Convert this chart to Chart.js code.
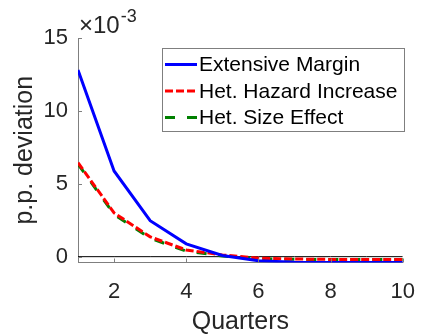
<!DOCTYPE html>
<html>
<head>
<meta charset="utf-8">
<script src="https://cdn.jsdelivr.net/npm/chart.js@4.4.1/dist/chart.umd.min.js"></script>
<style>
  html, body { margin: 0; padding: 0; background: #fff; }
  #wrap { width: 431px; height: 334px; position: relative; }
</style>
</head>
<body>
<div id="wrap"><canvas id="irf"></canvas></div>
<script>
// quarters after the shock
const quarters = [1, 2, 3, 4, 5, 6, 7, 8, 9, 10];
// p.p. deviation of each series
const extensiveMargin = [12.8e-3, 5.88e-3, 2.47e-3, 0.88e-3, 0.08e-3, -0.28e-3, -0.38e-3, -0.4e-3, -0.4e-3, -0.4e-3];
const hazardIncrease = [6.45e-3, 3.0e-3, 1.36e-3, 0.46e-3, 0.12e-3, -0.1e-3, -0.16e-3, -0.19e-3, -0.2e-3, -0.2e-3];
const sizeEffect = [6.35e-3, 2.9e-3, 1.26e-3, 0.38e-3, 0.05e-3, -0.14e-3, -0.18e-3, -0.2e-3, -0.2e-3, -0.2e-3];
const zeroLine = [0, 0, 0, 0, 0, 0, 0, 0, 0, 0];
const yTicks = [0, 5e-3, 10e-3, 15e-3];
const xTicks = [2, 4, 6, 8, 10];

const FONT = "'Liberation Sans', Arial, sans-serif";
const AXIS_GRAY = "#7f7f7f";
const TEXT = "#262626";

const pts = (ys) => quarters.map((q, i) => ({ x: q, y: ys[i] }));

// MATLAB style inward tick marks
const inwardTicks = {
  id: "inwardTicks",
  afterDraw(chart) {
    const { ctx, chartArea, scales } = chart;
    ctx.save();
    ctx.strokeStyle = AXIS_GRAY;
    ctx.lineWidth = 1;
    ctx.beginPath();
    xTicks.forEach((v) => {
      const x = Math.round(scales.x.getPixelForValue(v)) + 0.5;
      ctx.moveTo(x, chartArea.bottom);
      ctx.lineTo(x, chartArea.bottom - 4);
    });
    yTicks.forEach((v) => {
      const y = Math.round(scales.y.getPixelForValue(v)) + 0.5;
      ctx.moveTo(chartArea.left, y);
      ctx.lineTo(chartArea.left + 4, y);
    });
    ctx.stroke();
    ctx.restore();
  },
};

// exponent label above the y axis
const exponentLabel = {
  id: "exponentLabel",
  afterDraw(chart) {
    const { ctx } = chart;
    ctx.save();
    ctx.fillStyle = TEXT;
    ctx.textBaseline = "alphabetic";
    ctx.textAlign = "left";
    ctx.font = "24px " + FONT;
    ctx.fillText("\u00d710", 79, 33);
    const w = ctx.measureText("\u00d710").width;
    ctx.font = "18px " + FONT;
    ctx.fillText("-3", 79 + w + 1, 22);
    ctx.restore();
  },
};

// boxed legend in the upper right
const boxLegend = {
  id: "boxLegend",
  afterDraw(chart) {
    const { ctx } = chart;
    const box = { x: 162, y: 48, w: 242, h: 83 };
    ctx.save();
    ctx.fillStyle = "#fff";
    ctx.fillRect(box.x, box.y, box.w, box.h);
    ctx.strokeStyle = AXIS_GRAY;
    ctx.lineWidth = 1;
    ctx.strokeRect(box.x + 0.5, box.y + 0.5, box.w, box.h);
    ctx.font = "21px " + FONT;
    ctx.textBaseline = "middle";
    ctx.fillStyle = "#000";
    chart.data.datasets.slice(0, 3).forEach((ds, i) => {
      const y = 64.5 + i * 26.5;
      ctx.beginPath();
      ctx.strokeStyle = ds.borderColor;
      ctx.lineWidth = ds.borderWidth;
      ctx.setLineDash(ds.borderDash || []);
      ctx.moveTo(165, y);
      ctx.lineTo(197, y);
      ctx.stroke();
      ctx.setLineDash([]);
      ctx.fillText(ds.label, 199, y + 1);
    });
    ctx.restore();
  },
};

new Chart(document.getElementById("irf"), {
  type: "line",
  data: {
    datasets: [
      {
        label: "Extensive Margin",
        data: pts(extensiveMargin),
        borderColor: "#0000ff",
        borderWidth: 3,
        order: 0,
      },
      {
        label: "Het. Hazard Increase",
        data: pts(hazardIncrease),
        borderColor: "#ff0000",
        borderWidth: 3,
        borderDash: [8, 3],
        order: 1,
      },
      {
        label: "Het. Size Effect",
        data: pts(sizeEffect),
        borderColor: "#008000",
        borderWidth: 3,
        borderDash: [10, 12],
        order: 2,
      },
      {
        label: "zero",
        data: pts(zeroLine),
        borderColor: "#000000",
        borderWidth: 1,
        order: 3,
      },
    ],
  },
  options: {
    responsive: true,
    maintainAspectRatio: false,
    animation: false,
    elements: { point: { radius: 0 }, line: { tension: 0 } },
    layout: { padding: { top: 38, right: 15.5, left: 0, bottom: 0 } },
    scales: {
      x: {
        type: "linear",
        min: 1,
        max: 10,
        afterBuildTicks: (s) => { s.ticks = xTicks.map((v) => ({ value: v })); },
        afterFit: (s) => { s.height = 71.5; },
        grid: { display: false, drawTicks: false },
        border: { display: true, color: AXIS_GRAY, width: 1 },
        ticks: { color: TEXT, font: { family: FONT, size: 22 }, padding: 16, maxRotation: 0 },
        title: { display: true, text: "Quarters", color: TEXT, font: { family: FONT, size: 25 }, padding: { top: 0, bottom: -3 } },
      },
      y: {
        min: -0.4e-3,
        max: 15e-3,
        afterBuildTicks: (s) => { s.ticks = yTicks.map((v) => ({ value: v })); },
        afterFit: (s) => { s.width = 78; },
        grid: { display: false, drawTicks: false },
        border: { display: true, color: AXIS_GRAY, width: 1 },
        ticks: {
          color: TEXT,
          font: { family: FONT, size: 22 },
          padding: 10,
          callback: (v) => String(Math.round(v * 1000)),
        },
        title: { display: true, text: "p.p. deviation", color: TEXT, font: { family: FONT, size: 25 }, padding: { top: 10, bottom: 0 } },
      },
    },
    plugins: { legend: { display: false }, tooltip: { enabled: false } },
  },
  plugins: [inwardTicks, exponentLabel, boxLegend],
});
</script>
</body>
</html>
